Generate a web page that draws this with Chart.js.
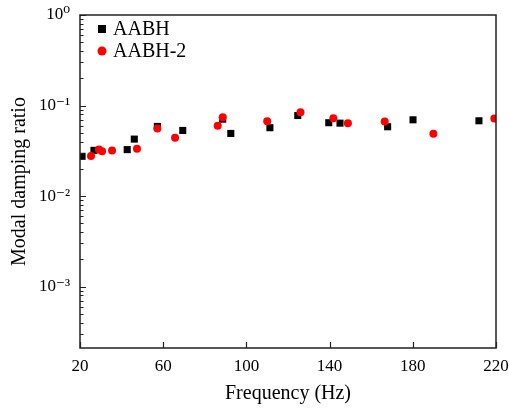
<!DOCTYPE html>
<html>
<head>
<meta charset="utf-8">
<script src="https://cdn.jsdelivr.net/npm/chart.js@4.4.1/dist/chart.umd.min.js"></script>
<style>
  html, body { margin: 0; padding: 0; background: #fff; }
  #wrap { width: 510px; height: 410px; }
</style>
</head>
<body>
<div id="wrap"><canvas id="dampChart" width="510" height="410"></canvas></div>
<script>
// frequency (Hz) / modal damping ratio
const freqAABH = [21.0, 26.7, 42.7, 46.1, 57.2, 69.4, 88.6, 92.5, 111.3, 124.7, 139.6, 145.0, 167.9, 180.1, 211.8];
const dampAABH = [0.0275, 0.0320, 0.0326, 0.0426, 0.0588, 0.0531, 0.0707, 0.0492, 0.0569, 0.0776, 0.0646, 0.0639, 0.0583, 0.0696, 0.0679];

const freqAABH2 = [25.3, 29.1, 30.6, 35.4, 47.4, 57.2, 65.7, 86.2, 88.6, 110.0, 126.0, 141.8, 148.8, 166.5, 189.9, 219.2];
const dampAABH2 = [0.0277, 0.0326, 0.0312, 0.0318, 0.0334, 0.0559, 0.0442, 0.0598, 0.0744, 0.0672, 0.0844, 0.0725, 0.0639, 0.0667, 0.0489, 0.0720];

const xTicks = [20, 60, 100, 140, 180, 220];
const yTickValues = [1, 0.1, 0.01, 0.001];
const yTickLabels = ['10\u2070', '10\u207B\u00B9', '10\u207B\u00B2', '10\u207B\u00B3'];

const serif = "'Liberation Serif', 'DejaVu Serif', serif";

function toPoints(xs, ys) {
  return xs.map((x, i) => ({ x: x, y: ys[i] }));
}

// inward tick marks, box frame and the legend in the top-left corner
const frameTicks = {
  id: 'frameTicks',
  afterDraw(chart) {
    const { ctx, chartArea: a, scales } = chart;
    const xs = scales.x, ys = scales.y;
    ctx.save();
    ctx.strokeStyle = '#222';
    ctx.lineWidth = 1.5;
    ctx.strokeRect(a.left, a.top, a.right - a.left, a.bottom - a.top);
    ctx.lineWidth = 1.2;
    ctx.beginPath();
    xTicks.forEach(v => {
      const px = Math.round(xs.getPixelForValue(v)) + 0.5;
      ctx.moveTo(px, a.bottom);
      ctx.lineTo(px, a.bottom - 6);
    });
    for (let e = -4; e <= 0; e++) {
      for (let m = 1; m <= 9; m++) {
        const v = m * Math.pow(10, e);
        if (v < ys.min || v > ys.max) continue;
        const py = Math.round(ys.getPixelForValue(v)) + 0.5;
        const len = m === 1 ? 6 : 3.5;
        ctx.moveTo(a.left, py);
        ctx.lineTo(a.left + len, py);
      }
    }
    ctx.stroke();

    // legend
    ctx.font = '20px ' + serif;
    ctx.textBaseline = 'middle';
    ctx.textAlign = 'left';
    chart.data.datasets.forEach((ds, i) => {
      const cx = a.left + 22, cy = a.top + 14 + i * 22;
      ctx.fillStyle = ds.backgroundColor;
      if (ds.pointStyle === 'rect') {
        ctx.fillRect(cx - 4, cy - 4, 8, 8);
      } else {
        ctx.beginPath();
        ctx.arc(cx, cy, 4.5, 0, Math.PI * 2);
        ctx.fill();
      }
      ctx.fillStyle = '#000';
      ctx.fillText(ds.label, cx + 11, cy + 1);
    });
    ctx.restore();
  }
};

new Chart(document.getElementById('dampChart'), {
  type: 'scatter',
  data: {
    datasets: [{
      label: 'AABH',
      data: toPoints(freqAABH, dampAABH),
      pointStyle: 'rect',
      pointRadius: 5,
      backgroundColor: '#000',
      borderColor: '#000',
      borderWidth: 0,
      order: 1
    }, {
      label: 'AABH-2',
      data: toPoints(freqAABH2, dampAABH2),
      pointStyle: 'circle',
      pointRadius: 4,
      backgroundColor: '#f00',
      borderColor: '#f00',
      borderWidth: 0,
      order: 0
    }]
  },
  options: {
    responsive: false,
    animation: false,
    layout: { padding: { top: 15, right: 14, left: 0, bottom: 0 } },
    plugins: {
      tooltip: { enabled: false },
      legend: { display: false }
    },
    scales: {
      x: {
        type: 'linear',
        min: 20,
        max: 220,
        afterBuildTicks: s => { s.ticks = xTicks.map(v => ({ value: v })); },
        ticks: { color: '#000', font: { family: serif, size: 17 }, padding: 0 },
        grid: { display: false, tickLength: 8 },
        border: { display: false },
        title: { display: true, text: 'Frequency (Hz)', color: '#000', font: { family: serif, size: 20 }, padding: { top: 0, bottom: 4 } },
        afterFit: s => { s.height = 62; }
      },
      y: {
        type: 'logarithmic',
        min: 2.1e-4,
        max: 1,
        afterBuildTicks: s => { s.ticks = yTickValues.map(v => ({ value: v })); },
        ticks: { color: '#000', font: { family: serif, size: 17 }, padding: 2, callback: (v, i) => yTickLabels[i] },
        grid: { display: false, tickLength: 8 },
        border: { display: false },
        title: { display: true, text: 'Modal damping ratio', color: '#000', font: { family: serif, size: 20 }, padding: { top: 8, bottom: 4 } },
        afterFit: s => { s.width = 80; }
      }
    }
  },
  plugins: [frameTicks]
});
</script>
</body>
</html>
